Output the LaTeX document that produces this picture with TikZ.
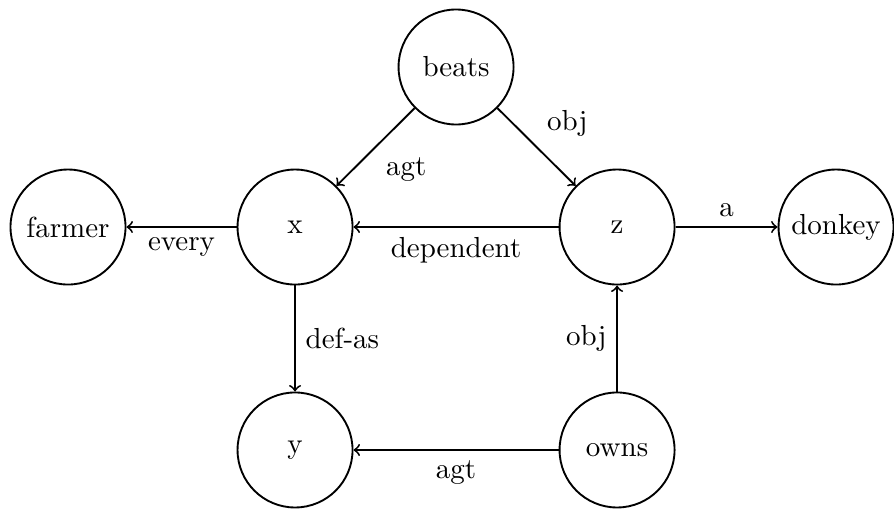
\documentclass[tikz,border=0pt]{standalone}
\usetikzlibrary{arrows}
\begin{document}
\begin{tikzpicture}[
  font=\fontsize{10.76}{13}\selectfont,
  line width=0.7pt,
  concept/.style={draw, circle, minimum size=1.5cm, inner sep=1pt},
  rel/.style={->},
  lbl/.style={auto, inner sep=3.6pt}
]
\useasboundingbox (0,0) rectangle (11.660,-6.626);
% concept nodes
\node[concept] (beats)  at (5.948,-0.874) {beats};
\node[concept] (x)      at (3.848,-2.961) {x};
\node[concept] (z)      at (8.048,-2.961) {z};
\node[concept] (farmer) at (0.887,-2.961) {farmer};
\node[concept] (donkey) at (10.904,-2.961) {donkey};
\node[concept] (y)      at (3.848,-5.869) {y};
\node[concept] (owns)   at (8.048,-5.869) {owns};
% relations
\draw[rel] (beats) -- node[lbl] {agt} (x);
\draw[rel] (beats) -- node[lbl] {obj} (z);
\draw[rel] (x) -- node[lbl] {every} (farmer);
\draw[rel] (z) -- node[lbl] {dependent} (x);
\draw[rel] (z) -- node[lbl] {a} (donkey);
\draw[rel] (x) -- node[lbl] {def-as} (y);
\draw[rel] (owns) -- node[lbl] {obj} (z);
\draw[rel] (owns) -- node[lbl] {agt} (y);
\end{tikzpicture}
\end{document}
